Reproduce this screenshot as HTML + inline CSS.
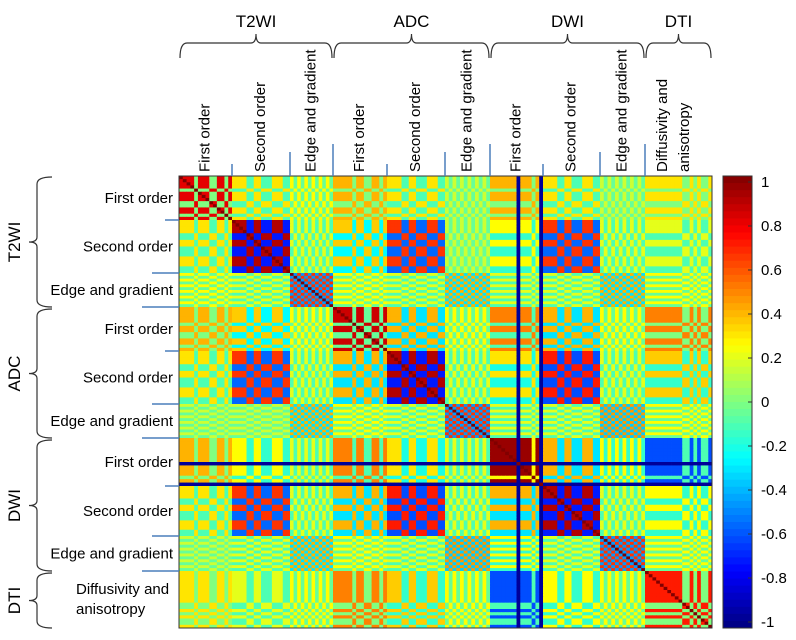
<!DOCTYPE html>
<html><head><meta charset="utf-8"><style>
body{margin:0;background:#fff}
svg{display:block;font-family:"Liberation Sans",sans-serif}
</style></head><body>
<svg id="chart" width="796" height="640" viewBox="0 0 796 640" xmlns="http://www.w3.org/2000/svg">
<g id="cells"></g>
<g id="deco"></g>
<g id="cbar"></g>
</svg>
<script>
// ---- data ----
const groupNames = ["T2WI First order","T2WI Second order","T2WI Edge and gradient","ADC First order","ADC Second order","ADC Edge and gradient","DWI First order","DWI Second order","DWI Edge and gradient","DTI Diffusivity and anisotropy"];
const signPatterns = [
 "++++-+++--++-+",
 "++++--++---+++--",
 "+-+-+-+-+-+-",
 "+++++-++--++-+",
 "++++--++---+++--",
 "+-+-+-+-+-+-",
 "+++++++-+++-+-",
 "++++--++---+++--",
 "+-+-+-+-+-+-",
 "++++++++++--+-+--+"
];
// block mean correlation (symmetric)
const blockMean = [
 [0.40,0.10,0.10,0.20,0.10,0.05,0.20,0.10,0.05,0.15],
 [0.10,0.10,0.05,0.05,0.05,0.05,0.05,0.05,0.05,0.05],
 [0.10,0.05,0.10,0.10,0.05,0.05,0.05,0.05,0.05,0.10],
 [0.20,0.05,0.10,0.40,0.05,0.10,0.20,0.05,0.10,0.25],
 [0.10,0.05,0.05,0.05,0.10,0.05,0.05,0.05,0.05,0.10],
 [0.05,0.05,0.05,0.10,0.05,0.10,0.05,0.05,0.05,0.10],
 [0.20,0.05,0.05,0.20,0.05,0.05,0.60,0.05,0.05,-0.35],
 [0.10,0.05,0.05,0.05,0.05,0.05,0.05,0.10,0.05,0.05],
 [0.05,0.05,0.05,0.10,0.05,0.05,0.05,0.05,0.10,0.10],
 [0.15,0.05,0.10,0.25,0.10,0.10,-0.35,0.05,0.10,0.35]
];
// block contrast amplitude
const blockAmp = [
 [0.40,0.20,0.15,0.20,0.20,0.10,0.20,0.20,0.10,0.15],
 [0.20,0.80,0.15,0.30,0.60,0.10,0.20,0.60,0.15,0.15],
 [0.15,0.15,0.55,0.15,0.15,0.35,0.15,0.15,0.35,0.15],
 [0.20,0.30,0.15,0.45,0.35,0.15,0.30,0.35,0.15,0.25],
 [0.20,0.60,0.15,0.35,0.80,0.15,0.25,0.65,0.15,0.25],
 [0.10,0.10,0.35,0.15,0.15,0.55,0.15,0.15,0.40,0.15],
 [0.20,0.20,0.15,0.30,0.25,0.15,0.35,0.35,0.20,-0.25],
 [0.20,0.60,0.15,0.35,0.65,0.15,0.35,0.80,0.15,0.20],
 [0.10,0.15,0.35,0.15,0.15,0.40,0.20,0.15,0.55,0.15],
 [0.15,0.15,0.15,0.25,0.25,0.15,-0.25,0.20,0.15,0.35]
];
// features with near -1 correlation to all others (group, index)
const darkFeatures = [[6,7],[6,13]];
const cbTicks = [1,0.8,0.6,0.4,0.2,0,-0.2,-0.4,-0.6,-0.8,-1];
const cbTickLabels = ["1","0.8","0.6","0.4","0.2","0","-0.2","-0.4","-0.6","-0.8","-1"];
const topModalities = ["T2WI","ADC","DWI","DTI"];
const rowLabels = ["First order","Second order","Edge and gradient","First order","Second order","Edge and gradient","First order","Second order","Edge and gradient"];

// ---- layout ----
const xB=[179,232,290,333,387,445,490,543,600,645,712];
const yB=[176,220,273,307,351,404,438,486,536,571,628];
const NS="http://www.w3.org/2000/svg";
function mk(tag,attrs,parent){const e=document.createElementNS(NS,tag);for(const k in attrs)e.setAttribute(k,attrs[k]);parent.appendChild(e);return e;}
function jet(v){
  const t=(Math.max(-1,Math.min(1,v))+1)/2;
  const r=Math.max(0,Math.min(1,1.5-Math.abs(4*t-3)));
  const g=Math.max(0,Math.min(1,1.5-Math.abs(4*t-2)));
  const b=Math.max(0,Math.min(1,1.5-Math.abs(4*t-1)));
  return `rgb(${Math.round(r*255)},${Math.round(g*255)},${Math.round(b*255)})`;
}
const feats=[];
signPatterns.forEach((p,g)=>{for(let i=0;i<p.length;i++)feats.push({g,i,s:p[i]==="+"?1:-1,n:p.length});});
function isDark(f){return darkFeatures.some(d=>d[0]===f.g&&d[1]===f.i);}
function xPos(f){const w=(xB[f.g+1]-xB[f.g])/f.n;return [xB[f.g]+f.i*w,w];}
function yPos(f){const h=(yB[f.g+1]-yB[f.g])/f.n;return [yB[f.g]+f.i*h,h];}
function value(a,b){
  if(a===b)return 1;
  if(isDark(a)||isDark(b))return -0.95;
  return blockMean[a.g][b.g]+blockAmp[a.g][b.g]*a.s*b.s;
}
const cells=document.getElementById('cells');
feats.forEach(fr=>{
  const [y,h]=yPos(fr);
  feats.forEach(fc=>{
    const [x,w]=xPos(fc);
    const r=mk('rect',{x:x.toFixed(2),y:y.toFixed(2),width:(w+0.4).toFixed(2),height:(h+0.4).toFixed(2),fill:jet(value(fr,fc))},cells);
    
    
  });
});
// ---- decorations ----
const deco=document.getElementById('deco');
mk('rect',{x:179,y:176,width:533,height:452,fill:'none',stroke:'#333','stroke-width':1},deco);
const topMid=[];
for(let g=0;g<10;g++)topMid.push((xB[g]+xB[g+1])/2);
const colLabels=["First order","Second order","Edge and gradient","First order","Second order","Edge and gradient","First order","Second order","Edge and gradient"];
colLabels.forEach((t,g)=>{
  const cx=topMid[g]+4;
  const e=mk('text',{x:0,y:0,transform:`translate(${cx},172) rotate(-90)`,'font-size':15,fill:'#000'},deco);
  e.textContent=t;
  
  
});
[["Diffusivity and",667],["anisotropy",689]].forEach(([t,cx])=>{
  const e=mk('text',{x:0,y:0,transform:`translate(${cx},172) rotate(-90)`,'font-size':15,fill:'#000'},deco);
  e.textContent=t;
  
  
});
[1,2,4,5,7,8].forEach(i=>{mk('line',{x1:xB[i],y1:(i%3===2?152:164),x2:xB[i],y2:176,stroke:'#4a7ebb','stroke-width':1.5},deco);});
[3,6,9].forEach(i=>{mk('line',{x1:xB[i],y1:144,x2:xB[i],y2:176,stroke:'#4a7ebb','stroke-width':1.5},deco);});
const modX=[[179,333],[333,490],[490,645],[645,712]];
modX.forEach(([a,b],k)=>{
  const m=(a+b)/2;
  mk('path',{d:`M${a+1},58 Q${a+1},43 ${a+8},43 L${m-5},43 Q${m},43 ${m},34 Q${m},43 ${m+5},43 L${b-8},43 Q${b-1},43 ${b-1},58`,fill:'none',stroke:'#333','stroke-width':1.2},deco);
  const t=mk('text',{x:m,y:27,'text-anchor':'middle','font-size':17,fill:'#000'},deco);
  t.textContent=topModalities[k];
  
  
});
rowLabels.forEach((t,g)=>{
  const cy=(yB[g]+yB[g+1])/2+5;
  const e=mk('text',{x:173,y:cy,'text-anchor':'end','font-size':15,fill:'#000'},deco);
  e.textContent=t;
  
  
});
[["Diffusivity and",594],["anisotropy",614]].forEach(([t,y])=>{
  const e=mk('text',{x:76,y:y,'font-size':15,fill:'#000'},deco);
  e.textContent=t;
  
  
});
[1,2,4,5,7,8].forEach(i=>{mk('line',{x1:(i%3===2?152:165),y1:yB[i],x2:179,y2:yB[i],stroke:'#4a7ebb','stroke-width':1.5},deco);});
[3,6,9].forEach(i=>{mk('line',{x1:142,y1:yB[i],x2:179,y2:yB[i],stroke:'#4a7ebb','stroke-width':1.5},deco);});
const modY=[[177,307],[309,438],[440,571],[573,628]];
modY.forEach(([a,b],k)=>{
  const m=(a+b)/2;
  mk('path',{d:`M52,${a} Q37,${a} 37,${a+7} L37,${m-5} Q37,${m} 29,${m} Q37,${m} 37,${m+5} L37,${b-7} Q37,${b} 52,${b}`,fill:'none',stroke:'#333','stroke-width':1.2},deco);
  const t=mk('text',{x:0,y:0,transform:`translate(20,${m}) rotate(-90)`,'text-anchor':'middle','font-size':17,fill:'#000'},deco);
  t.textContent=topModalities[k];
  
  
});
// ---- colorbar ----
const cb=document.getElementById('cbar');
const cbTop=176,cbBot=628,cbX=723,cbW=29;
const nSteps=64;
for(let i=0;i<nSteps;i++){
  const v=1-2*(i+0.5)/nSteps;
  const r=mk('rect',{x:cbX,y:(cbTop+i*(cbBot-cbTop)/nSteps).toFixed(2),width:cbW,height:((cbBot-cbTop)/nSteps+0.5).toFixed(2),fill:jet(v)},cb);
  
  
}
mk('rect',{x:cbX,y:cbTop,width:cbW,height:cbBot-cbTop,fill:'none',stroke:'#333','stroke-width':1},cb);
function cbY(v){return 182+(1-v)/2*(622-182);}
cbTicks.forEach((v,i)=>{
  const y=cbY(v);
  mk('line',{x1:cbX+cbW-4,y1:y,x2:cbX+cbW,y2:y,stroke:'#333'},cb);
  const t=mk('text',{x:761,y:y+5,'font-size':15,fill:'#000'},cb);
  t.textContent=cbTickLabels[i];
  
  
});
</script>
</body></html>
